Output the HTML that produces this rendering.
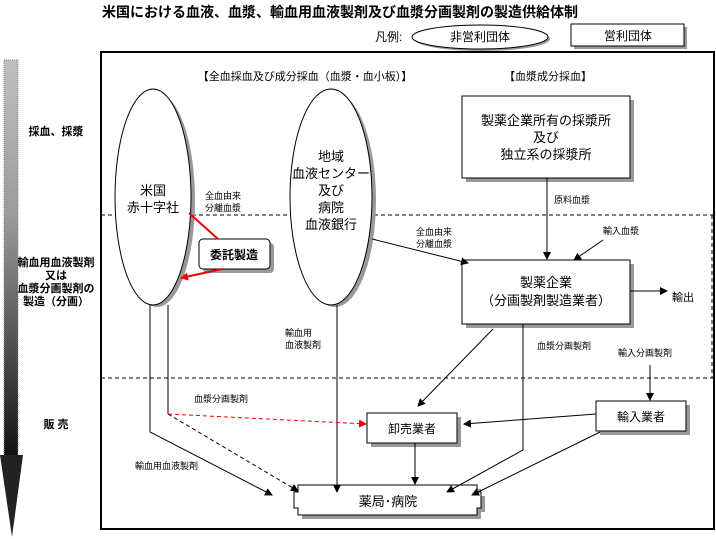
<!DOCTYPE html>
<html><head><meta charset="utf-8"><style>
html,body{margin:0;padding:0;background:#fff;}
svg{display:block;font-family:"Liberation Sans","Noto Sans CJK JP",sans-serif;}
</style></head><body>
<svg width="716" height="539" viewBox="0 0 716 539" xmlns="http://www.w3.org/2000/svg">
<defs>
<linearGradient id="g" x1="0" y1="0" x2="0" y2="1">
<stop offset="0" stop-color="#c0c0c0"/><stop offset="0.4" stop-color="#9a9a9a"/><stop offset="1" stop-color="#111"/>
</linearGradient>
<marker id="a" markerWidth="8" markerHeight="8" refX="7" refY="4" orient="auto" markerUnits="userSpaceOnUse"><path d="M0,0 L8,4 L0,8 z" fill="#000"/></marker>
<marker id="r" markerWidth="8" markerHeight="8" refX="7" refY="4" orient="auto" markerUnits="userSpaceOnUse"><path d="M0,0 L8,4 L0,8 z" fill="#e00"/></marker>
</defs>
<text x="340" y="17" font-size="14" font-weight="bold" text-anchor="middle">米国における血液、血漿、輸血用血液製剤及び血漿分画製剤の製造供給体制</text>
<text x="375" y="41" font-size="12">凡例:</text>
<ellipse cx="482" cy="39" rx="68" ry="12" fill="#999"/>
<ellipse cx="480" cy="37" rx="68" ry="12" fill="#fff" stroke="#000"/>
<text x="480" y="41" font-size="12" text-anchor="middle">非営利団体</text>
<rect x="574" y="27" width="113" height="22" fill="#999"/>
<rect x="571" y="24" width="113" height="22" fill="#fff" stroke="#000"/>
<text x="628" y="40" font-size="12" text-anchor="middle">営利団体</text>
<rect x="4" y="60" width="14" height="396" fill="url(#g)" stroke="#888" stroke-dasharray="1,1"/>
<path d="M0,455 L23,455 L12,537 z" fill="#222"/>
<rect x="101" y="52" width="613" height="477" fill="none" stroke="#000" stroke-width="2"/>
<line x1="101" y1="215" x2="713" y2="215" stroke="#000" stroke-dasharray="4,3"/>
<line x1="101" y1="378" x2="713" y2="378" stroke="#000" stroke-dasharray="4,3"/>
<line x1="712" y1="215" x2="712" y2="378" stroke="#000" stroke-dasharray="4,3"/>
<g font-size="11" font-weight="bold" text-anchor="middle">
<text x="56" y="135">採血、採漿</text>
<text x="56" y="266">輸血用血液製剤</text><text x="56" y="279">又は</text>
<text x="56" y="292">血漿分画製剤の</text><text x="56" y="305">製造（分画）</text>
<text x="56" y="428">販 売</text>
</g>
<g font-size="11" text-anchor="middle">
<text x="305" y="80">【全血採血及び成分採血（血漿・血小板）】</text>
<text x="548" y="80">【血漿成分採血】</text>
</g>
<ellipse cx="157" cy="200" rx="38" ry="107" fill="#999"/>
<ellipse cx="153" cy="197" rx="38" ry="108" fill="#fff" stroke="#000"/>
<ellipse cx="335" cy="200" rx="41" ry="107" fill="#999"/>
<ellipse cx="331" cy="197" rx="41" ry="108" fill="#fff" stroke="#000"/>
<g font-size="13" text-anchor="middle">
<text x="153" y="195">米国</text><text x="153" y="212">赤十字社</text>
<text x="331" y="161">地域</text><text x="331" y="178">血液センター</text><text x="331" y="195">及び</text><text x="331" y="212">病院</text><text x="331" y="229">血液銀行</text>
</g>
<rect x="466" y="100" width="168" height="82" fill="#999"/>
<rect x="462" y="96" width="168" height="82" fill="#fff" stroke="#000"/>
<g font-size="13" text-anchor="middle">
<text x="546" y="125">製薬企業所有の採漿所</text><text x="546" y="142">及び</text><text x="546" y="159">独立系の採漿所</text>
</g>
<rect x="466" y="264" width="168" height="64" fill="#999"/>
<rect x="462" y="260" width="168" height="64" fill="#fff" stroke="#000"/>
<g font-size="13" text-anchor="middle">
<text x="546" y="287">製薬企業</text><text x="546" y="305">（分画製剤製造業者）</text>
</g>
<rect x="203" y="243" width="71" height="30" rx="4" fill="#999"/>
<rect x="199" y="239" width="71" height="30" rx="4" fill="#fff" stroke="#000"/>
<text x="234" y="259" font-size="12" font-weight="bold" text-anchor="middle">委託製造</text>
<rect x="371" y="417" width="90" height="30" fill="#999"/>
<rect x="367" y="413" width="90" height="30" fill="#fff" stroke="#000"/>
<text x="412" y="433" font-size="12" text-anchor="middle">卸売業者</text>
<rect x="600" y="405" width="90" height="30" fill="#999"/>
<rect x="596" y="401" width="90" height="30" fill="#fff" stroke="#000"/>
<text x="641" y="421" font-size="12" text-anchor="middle">輸入業者</text>
<g transform="translate(4,4)"><path d="M298,485 L477,485 L477,492 L481,492 L481,508 L477,508 L477,515 L298,515 L298,508 L294,508 L294,492 L298,492 z" fill="#999"/></g>
<path d="M298,485 L477,485 L477,492 L481,492 L481,508 L477,508 L477,515 L298,515 L298,508 L294,508 L294,492 L298,492 z" fill="#fff" stroke="#000"/>
<text x="388" y="506" font-size="13" text-anchor="middle">薬局･病院</text>
<g stroke="#000" fill="none" stroke-width="1">
<polyline points="150,305 150,432 272,495" marker-end="url(#a)"/>
<polyline points="168,305 168,414"/>
<line x1="168" y1="414" x2="298" y2="491" stroke-dasharray="4,3" marker-end="url(#a)"/>
<line x1="337" y1="305" x2="337" y2="492" marker-end="url(#a)"/>
<line x1="493" y1="329" x2="418" y2="406" marker-end="url(#a)"/>
<polyline points="523,324 523,450 447,492" marker-end="url(#a)"/>
<line x1="415" y1="443" x2="415" y2="484" marker-end="url(#a)"/>
<line x1="596" y1="414" x2="464" y2="424" marker-end="url(#a)"/>
<line x1="600" y1="432" x2="472" y2="495" marker-end="url(#a)"/>
<line x1="650" y1="365" x2="650" y2="400" marker-end="url(#a)"/>
<line x1="630" y1="291" x2="667" y2="291" marker-end="url(#a)"/>
<line x1="547" y1="178" x2="547" y2="259" marker-end="url(#a)"/>
<line x1="603" y1="240" x2="574" y2="260" marker-end="url(#a)"/>
<line x1="372" y1="239" x2="468" y2="263" marker-end="url(#a)"/>
</g>
<line x1="168" y1="414" x2="366" y2="424" stroke="#e00" stroke-dasharray="4,3" marker-end="url(#r)"/>
<line x1="189" y1="213" x2="218" y2="239" stroke="#e00" stroke-width="2"/>
<line x1="222" y1="269" x2="181" y2="278" stroke="#e00" stroke-width="2" marker-end="url(#r)"/>
<g font-size="9">
<text x="205" y="199">全血由来</text><text x="205" y="211">分離血漿</text>
<text x="416" y="235">全血由来</text><text x="416" y="247">分離血漿</text>
<text x="554" y="203">原料血漿</text>
<text x="603" y="234">輸入血漿</text>
<text x="672" y="301" font-size="11">輸出</text>
<text x="285" y="336">輸血用</text><text x="285" y="348">血液製剤</text>
<text x="537" y="349">血漿分画製剤</text>
<text x="618" y="356">輸入分画製剤</text>
<text x="194" y="402">血漿分画製剤</text>
<text x="135" y="469">輸血用血液製剤</text>
</g>
</svg>
</body></html>
